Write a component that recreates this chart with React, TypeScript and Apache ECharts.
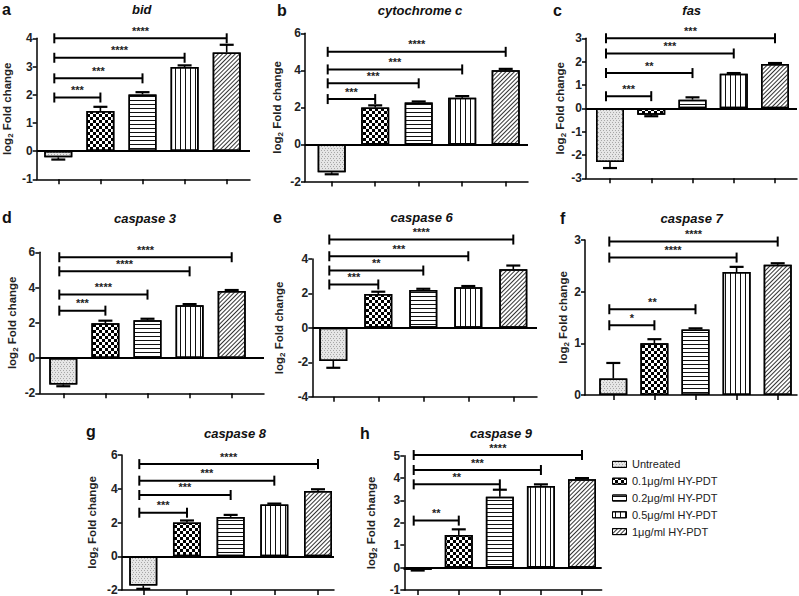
import React, { useEffect, useRef } from "react";
import * as echarts from "echarts";

const FONT = "Arial, 'Liberation Sans', Helvetica, sans-serif";

// ---------- data ----------
const categories = ["Untreated", "0.1μg/ml HY-PDT", "0.2μg/ml HY-PDT", "0.5μg/ml HY-PDT", "1μg/ml HY-PDT"];
const genes = ["bid", "cytochrome c", "fas", "caspase 3", "caspase 6", "caspase 7", "caspase 8", "caspase 9"];
const panelLetters = ["a", "b", "c", "d", "e", "f", "g", "h"];

// y axis ranges
const yMins = [-1, -2, -3, -2, -4, 0, -2, -1];
const yMaxs = [4, 6, 3, 6, 4, 3, 6, 5];
const ySteps = [1, 2, 1, 2, 2, 1, 2, 1];

// mean log2 fold change and end of error bar (mean ± SEM)
const bidMeans = [-0.22, 1.42, 2.01, 2.98, 3.5];
const bidErrEnds = [-0.3, 1.57, 2.09, 3.04, 3.77];
const cytcMeans = [-1.5, 2.0, 2.27, 2.52, 4.0];
const cytcErrEnds = [-1.61, 2.11, 2.32, 2.61, 4.08];
const fasMeans = [-2.3, -0.28, 0.37, 1.48, 1.9];
const fasErrEnds = [-2.56, -0.34, 0.47, 1.51, 1.94];
const casp3Means = [-1.5, 1.97, 2.15, 3.0, 3.8];
const casp3ErrEnds = [-1.6, 2.12, 2.23, 3.06, 3.86];
const casp6Means = [-1.92, 1.97, 2.2, 2.36, 3.4];
const casp6ErrEnds = [-2.32, 2.1, 2.27, 2.43, 3.62];
const casp7Means = [0.32, 1.0, 1.27, 2.38, 2.52];
const casp7ErrEnds = [0.62, 1.08, 1.29, 2.48, 2.55];
const casp8Means = [-1.74, 2.0, 2.33, 3.07, 3.86];
const casp8ErrEnds = [-1.93, 2.12, 2.45, 3.12, 3.97];
const casp9Means = [-0.1, 1.46, 3.17, 3.65, 3.95];
const casp9ErrEnds = [-0.13, 1.71, 3.48, 3.72, 4.0];

// significance brackets: from Untreated to group 1..4, at these heights
const bracketTargets = [1, 2, 3, 4];
const bidBrackets = [1.9, 2.58, 3.31, 4.0];
const cytcBrackets = [2.45, 3.3, 4.05, 5.0];
const fasBrackets = [0.52, 1.51, 2.35, 3.0];
const casp3Brackets = [2.69, 3.6, 4.92, 5.72];
const casp6Brackets = [2.52, 3.33, 4.16, 5.13];
const casp7Brackets = [1.35, 1.66, 2.66, 2.97];
const casp8Brackets = [2.58, 3.63, 4.48, 5.46];
const casp9Brackets = [2.1, 3.72, 4.36, 5.03];

const bidStars = ["***", "***", "****", "****"];
const cytcStars = ["***", "***", "***", "****"];
const fasStars = ["***", "**", "***", "***"];
const casp3Stars = ["***", "****", "****", "****"];
const casp6Stars = ["***", "**", "***", "****"];
const casp7Stars = ["*", "**", "****", "****"];
const casp8Stars = ["***", "***", "***", "****"];
const casp9Stars = ["**", "**", "***", "****"];

const panelData = [
  { means: bidMeans, errs: bidErrEnds, brackets: bidBrackets, stars: bidStars },
  { means: cytcMeans, errs: cytcErrEnds, brackets: cytcBrackets, stars: cytcStars },
  { means: fasMeans, errs: fasErrEnds, brackets: fasBrackets, stars: fasStars },
  { means: casp3Means, errs: casp3ErrEnds, brackets: casp3Brackets, stars: casp3Stars },
  { means: casp6Means, errs: casp6ErrEnds, brackets: casp6Brackets, stars: casp6Stars },
  { means: casp7Means, errs: casp7ErrEnds, brackets: casp7Brackets, stars: casp7Stars },
  { means: casp8Means, errs: casp8ErrEnds, brackets: casp8Brackets, stars: casp8Stars },
  { means: casp9Means, errs: casp9ErrEnds, brackets: casp9Brackets, stars: casp9Stars },
];

// ---------- layout (pixels) ----------
const layouts = [
  { axisX: 36.7, top: 38.3, bottom: 179.3, right: 250, c0: 58.3, c4: 226.7, nameDist: 29, titleX: 141.7, titleY: 9, letterX: 2, letterY: 9 },
  { axisX: 305, top: 33.3, bottom: 181.5, right: 528, c0: 331.7, c4: 505.7, nameDist: 28, titleX: 420, titleY: 10, letterX: 277, letterY: 10 },
  { axisX: 586, top: 38.3, bottom: 178.3, right: 797, c0: 610, c4: 775, nameDist: 23.5, titleX: 691.7, titleY: 10, letterX: 553, letterY: 10 },
  { axisX: 39.3, top: 252.3, bottom: 393.3, right: 264, c0: 63.3, c4: 231.7, nameDist: 27, titleX: 145, titleY: 218, letterX: 2, letterY: 217 },
  { axisX: 312.3, top: 259, bottom: 396.7, right: 537, c0: 333.3, c4: 513.3, nameDist: 33, titleX: 421.7, titleY: 217, letterX: 273, letterY: 217 },
  { axisX: 585, top: 240, bottom: 395, right: 797, c0: 613.3, c4: 777.7, nameDist: 17.5, titleX: 691.7, titleY: 218, letterX: 560, letterY: 218 },
  { axisX: 121.7, top: 455, bottom: 590, right: 334, c0: 143.3, c4: 318, nameDist: 29.7, titleX: 235, titleY: 433, letterX: 86, letterY: 431 },
  { axisX: 404.3, top: 455.7, bottom: 590, right: 601.7, c0: 417.7, c4: 582, nameDist: 33, titleX: 501, titleY: 433, letterX: 360, letterY: 433 },
];

// ---------- styles ----------
const fills = ["#e6e6e6", "#ffffff", "#ffffff", "#ffffff", "#ffffff"];
const decals: any[] = [
  { symbol: "rect", symbolSize: 1, dashArrayX: [[1, 2], [0, 1, 1, 1]], dashArrayY: [1, 1], color: "#a8a8a8" },
  { symbol: "rect", symbolSize: 1, dashArrayX: [[3, 3], [0, 3, 3, 0]], dashArrayY: [3, 0], color: "#000000" },
  { symbol: "rect", symbolSize: 1, dashArrayX: [1, 0], dashArrayY: [1, 3], color: "#111111" },
  { symbol: "rect", symbolSize: 1, dashArrayX: [1, 4], dashArrayY: [5, 0], color: "#111111" },
  { symbol: "rect", symbolSize: 1, dashArrayX: [1, 0], dashArrayY: [1, 2], rotation: -Math.PI / 4, color: "#333333" },
];

const lineStyle = { color: "#000", width: 1.5 };

function errorRender(params: any, api: any) {
  const i = api.value(0);
  const v = api.value(1);
  const e = api.value(2);
  const p0 = api.coord([i, v]);
  const p1 = api.coord([i, e]);
  return {
    type: "group",
    children: [
      { type: "line", shape: { x1: p0[0], y1: p0[1], x2: p1[0], y2: p1[1] }, style: { stroke: "#000", lineWidth: 1.6 } },
      { type: "line", shape: { x1: p1[0] - 7, y1: p1[1], x2: p1[0] + 7, y2: p1[1] }, style: { stroke: "#000", lineWidth: 2.2 } },
    ],
  };
}

function makeBracketRender(stars: string[]) {
  return (params: any, api: any) => {
    const end = api.value(0);
    const y = api.value(1);
    const a = api.coord([0, y]);
    const b = api.coord([end, y]);
    const x1 = a[0] - 4;
    const x2 = b[0];
    const yy = a[1];
    return {
      type: "group",
      children: [
        { type: "line", shape: { x1, y1: yy, x2, y2: yy }, style: { stroke: "#000", lineWidth: 2 } },
        { type: "line", shape: { x1, y1: yy - 5, x2: x1, y2: yy + 5 }, style: { stroke: "#000", lineWidth: 2 } },
        { type: "line", shape: { x1: x2, y1: yy - 5, x2, y2: yy + 5 }, style: { stroke: "#000", lineWidth: 2 } },
        {
          type: "text",
          x: (x1 + x2) / 2,
          y: yy - 2,
          style: {
            text: stars[params.dataIndex],
            font: `bold 11px ${FONT}`,
            fill: "#222",
            align: "center",
            verticalAlign: "bottom",
            textAlign: "center",
            textVerticalAlign: "bottom",
          },
        },
      ],
    };
  };
}

function buildOption() {
  const grid: any[] = [];
  const xAxis: any[] = [];
  const yAxis: any[] = [];
  const series: any[] = [];
  const graphic: any[] = [];

  layouts.forEach((l, k) => {
    const d = panelData[k];
    const sp = (l.c4 - l.c0) / 4;
    const xMin = -(l.c0 - l.axisX) / sp;
    const xMax = 4 + (l.right - l.c4) / sp;
    grid.push({ left: l.axisX, top: l.top, width: l.right - l.axisX, height: l.bottom - l.top });
    xAxis.push({
      type: "value",
      gridIndex: k,
      min: xMin,
      max: xMax,
      axisLine: { show: true, onZero: false, lineStyle },
      axisTick: { show: true, customValues: [0, 1, 2, 3, 4], length: 5, lineStyle },
      axisLabel: { show: false },
      splitLine: { show: false },
    });
    yAxis.push({
      type: "value",
      gridIndex: k,
      min: yMins[k],
      max: yMaxs[k],
      interval: ySteps[k],
      axisLine: { show: true, onZero: false, lineStyle },
      axisTick: { show: true, length: 4, lineStyle },
      axisLabel: { fontFamily: FONT, fontWeight: "bold", fontSize: 12, color: "#222", margin: 4 },
      splitLine: { show: false },
      name: "{n|log}{s|2}{n| Fold change}",
      nameLocation: "middle",
      nameRotate: 90,
      nameGap: l.nameDist - 7,
      nameTextStyle: {
        rich: {
          n: { fontFamily: FONT, fontWeight: "bold", fontSize: 11.5, color: "#222" },
          s: { fontFamily: FONT, fontWeight: "bold", fontSize: 8, color: "#222", padding: [7, 0, 0, 0] },
        },
      },
    });
    series.push({
      type: "bar",
      xAxisIndex: k,
      yAxisIndex: k,
      barWidth: 28,
      data: d.means.map((v, i) => ({
        value: [i, v],
        itemStyle: { color: fills[i], decal: decals[i], borderColor: "#000", borderWidth: 1.5 },
      })),
      markLine:
        yMins[k] < 0
          ? {
              silent: true,
              symbol: ["none", "none"],
              label: { show: false },
              lineStyle: { color: "#000", width: 1.8, type: "solid" },
              data: [{ yAxis: 0 }],
            }
          : undefined,
    });
    series.push({
      type: "custom",
      xAxisIndex: k,
      yAxisIndex: k,
      clip: false,
      z: 3,
      encode: { x: 0, y: [1, 2] },
      data: d.means.map((v, i) => [i, v, d.errs[i]]),
      renderItem: errorRender,
    });
    series.push({
      type: "custom",
      xAxisIndex: k,
      yAxisIndex: k,
      clip: false,
      z: 4,
      encode: { x: 0, y: 1 },
      data: bracketTargets.map((t, j) => [t, d.brackets[j]]),
      renderItem: makeBracketRender(d.stars),
    });
    graphic.push({
      type: "text",
      x: l.titleX,
      y: l.titleY,
      style: {
        text: genes[k],
        font: `italic bold 13px ${FONT}`,
        fill: "#111",
        align: "center",
        verticalAlign: "middle",
        textAlign: "center",
        textVerticalAlign: "middle",
      },
    });
    graphic.push({
      type: "text",
      x: l.letterX,
      y: l.letterY,
      style: {
        text: panelLetters[k],
        font: `bold 16px ${FONT}`,
        fill: "#111",
        align: "left",
        verticalAlign: "middle",
        textAlign: "left",
        textVerticalAlign: "middle",
      },
    });
  });

  // legend as a small grid with the same patterned swatches
  const li = layouts.length;
  grid.push({ left: 612, top: 456, width: 15, height: 84 });
  xAxis.push({ type: "value", gridIndex: li, min: 0, max: 1, show: false });
  yAxis.push({
    type: "category",
    gridIndex: li,
    data: categories,
    inverse: true,
    position: "right",
    axisLine: { show: false },
    axisTick: { show: false },
    axisLabel: { margin: 5, fontFamily: FONT, fontSize: 11, color: "#222", align: "left" },
  });
  series.push({
    type: "bar",
    xAxisIndex: li,
    yAxisIndex: li,
    barWidth: 7,
    data: categories.map((c, i) => ({
      value: 1,
      itemStyle: { color: fills[i], decal: decals[i], borderColor: "#000", borderWidth: 1 },
    })),
  });

  return { animation: false, backgroundColor: "#fff", grid, xAxis, yAxis, series, graphic };
}

export default function App() {
  const ref = useRef<HTMLDivElement>(null);
  useEffect(() => {
    const chart = echarts.init(ref.current as HTMLDivElement, null, { renderer: "svg", width: 799, height: 596 });
    chart.setOption(buildOption() as any);
    return () => chart.dispose();
  }, []);
  return (
    <div
      ref={ref}
      style={{ position: "fixed", left: 0, top: 0, width: 799, height: 596, background: "#fff" }}
    />
  );
}
